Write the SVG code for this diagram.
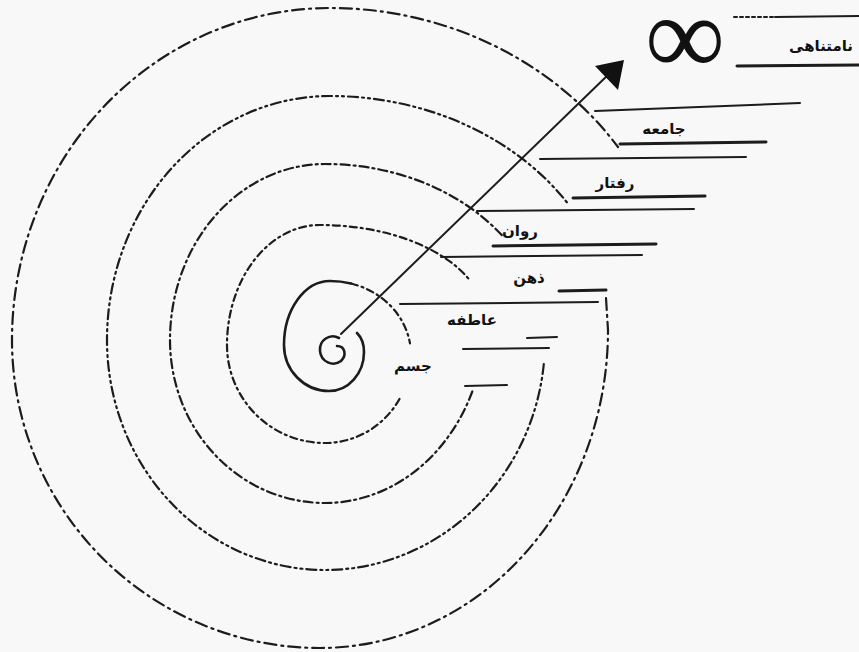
<svg xmlns="http://www.w3.org/2000/svg" width="859" height="652" viewBox="0 0 859 652">
<style>
.ring{fill:none;stroke:#1c1c1c;stroke-width:2.2;stroke-linecap:round}
.solid{fill:none;stroke:#1c1c1c;stroke-width:2.6;stroke-linecap:round}
.ln{stroke:#1c1c1c;stroke-width:2;stroke-linecap:round}
.thick{stroke-width:3}
.lbl{font-family:"DejaVu Sans",sans-serif;font-size:15px;font-weight:bold;fill:#111;text-anchor:middle}
</style>
<rect width="859" height="652" fill="#f8f8f8"/>
<g id="spiral">
  <path id="curl" class="solid" d="M 339,338 C 330,333 319,340 320,351 C 321,362 333,367 341,361 C 347,355 345,346 337,346"/>
  <path id="ringA" class="solid" d="M 357,333 Q 364,340 364,352 A 35,39 0 0 1 329,391 A 45,46 0 0 1 284,345 A 46,64 0 0 1 330,281 A 81,74 0 0 1 351,283.5"/>
  <path id="ringA2" class="ring" stroke-dasharray="7 4 2 4" d="M 351,283.5 A 81,74 0 0 1 410,343.4"/>
  <path id="ringB" class="ring" stroke-dasharray="7 4 2 4" d="M 399.5,399 A 86,88 0 0 1 325,443 A 98,98 0 0 1 227,345 A 93,120 0 0 1 320,225 A 165,95 0 0 1 469.5,279.9"/>
  <path id="ringC" class="ring" stroke-dasharray="9 4 2 4" d="M 472.3,391.5 A 160,183 0 0 1 325,503 A 155,163 0 0 1 170,340 A 155,176 0 0 1 325,164 A 220,176 0 0 1 503,236.5"/>
  <path id="ringD" class="ring" stroke-dasharray="10 4 2 4 2 4" d="M 543.8,364 A 220,230 0 0 1 325,570 A 218,230 0 0 1 107,340 A 223,244 0 0 1 330,96 A 285,239 0 0 1 569,205"/>
  <path id="ringE" class="ring" stroke-dasharray="12 5 2 5" d="M 606,298 L 608,330 A 288,318 0 0 1 320,648 A 308,308 0 0 1 12,340 A 318,332 0 0 1 330,8 A 350,322 0 0 1 618,147"/>
</g>
<g id="connectors">
  <line class="ln" x1="341" y1="334" x2="610" y2="73" stroke-width="3.4"/>
  <polygon points="624,60 595,66 618,90" fill="#111"/>
</g>
<g id="lines">
  <line class="ln" x1="734" y1="17" x2="775" y2="17" stroke-dasharray="3 3"/>
  <line class="ln" x1="775" y1="17" x2="859" y2="16"/>
  <line class="ln thick" x1="737" y1="66" x2="859" y2="65"/>
  <line class="ln" x1="595" y1="111" x2="800" y2="103"/>
  <line class="ln thick" x1="620" y1="144" x2="766" y2="142"/>
  <line class="ln" x1="540" y1="159" x2="746" y2="157"/>
  <line class="ln thick" x1="573" y1="198" x2="705" y2="196"/>
  <line class="ln" x1="477" y1="211" x2="694" y2="209"/>
  <line class="ln thick" x1="493" y1="246" x2="656" y2="244"/>
  <line class="ln" x1="441" y1="257" x2="642" y2="255"/>
  <line class="ln thick" x1="559" y1="291" x2="606" y2="290"/>
  <line class="ln" x1="400" y1="304" x2="598" y2="302"/>
  <line class="ln" x1="527" y1="338" x2="557" y2="337"/>
  <line class="ln" x1="463" y1="349" x2="549" y2="348"/>
  <line class="ln" x1="465" y1="386" x2="507" y2="385"/>
</g>
<g id="infinity"><text x="685" y="74" font-family="'Liberation Serif',serif" font-size="112" text-anchor="middle" fill="#111">∞</text></g>
<g id="n-infinite"><text class="lbl" x="821" y="51">نامتناهی</text></g>
<g id="n-society"><text class="lbl" x="664" y="134">جامعه</text></g>
<g id="n-behavior"><text class="lbl" x="615" y="188">رفتار</text></g>
<g id="n-psyche"><text class="lbl" x="520" y="236">روان</text></g>
<g id="n-mind"><text class="lbl" x="529" y="283">ذهن</text></g>
<g id="n-emotion"><text class="lbl" x="472" y="325">عاطفه</text></g>
<g id="n-body"><text class="lbl" x="413" y="371">جسم</text></g>
</svg>
